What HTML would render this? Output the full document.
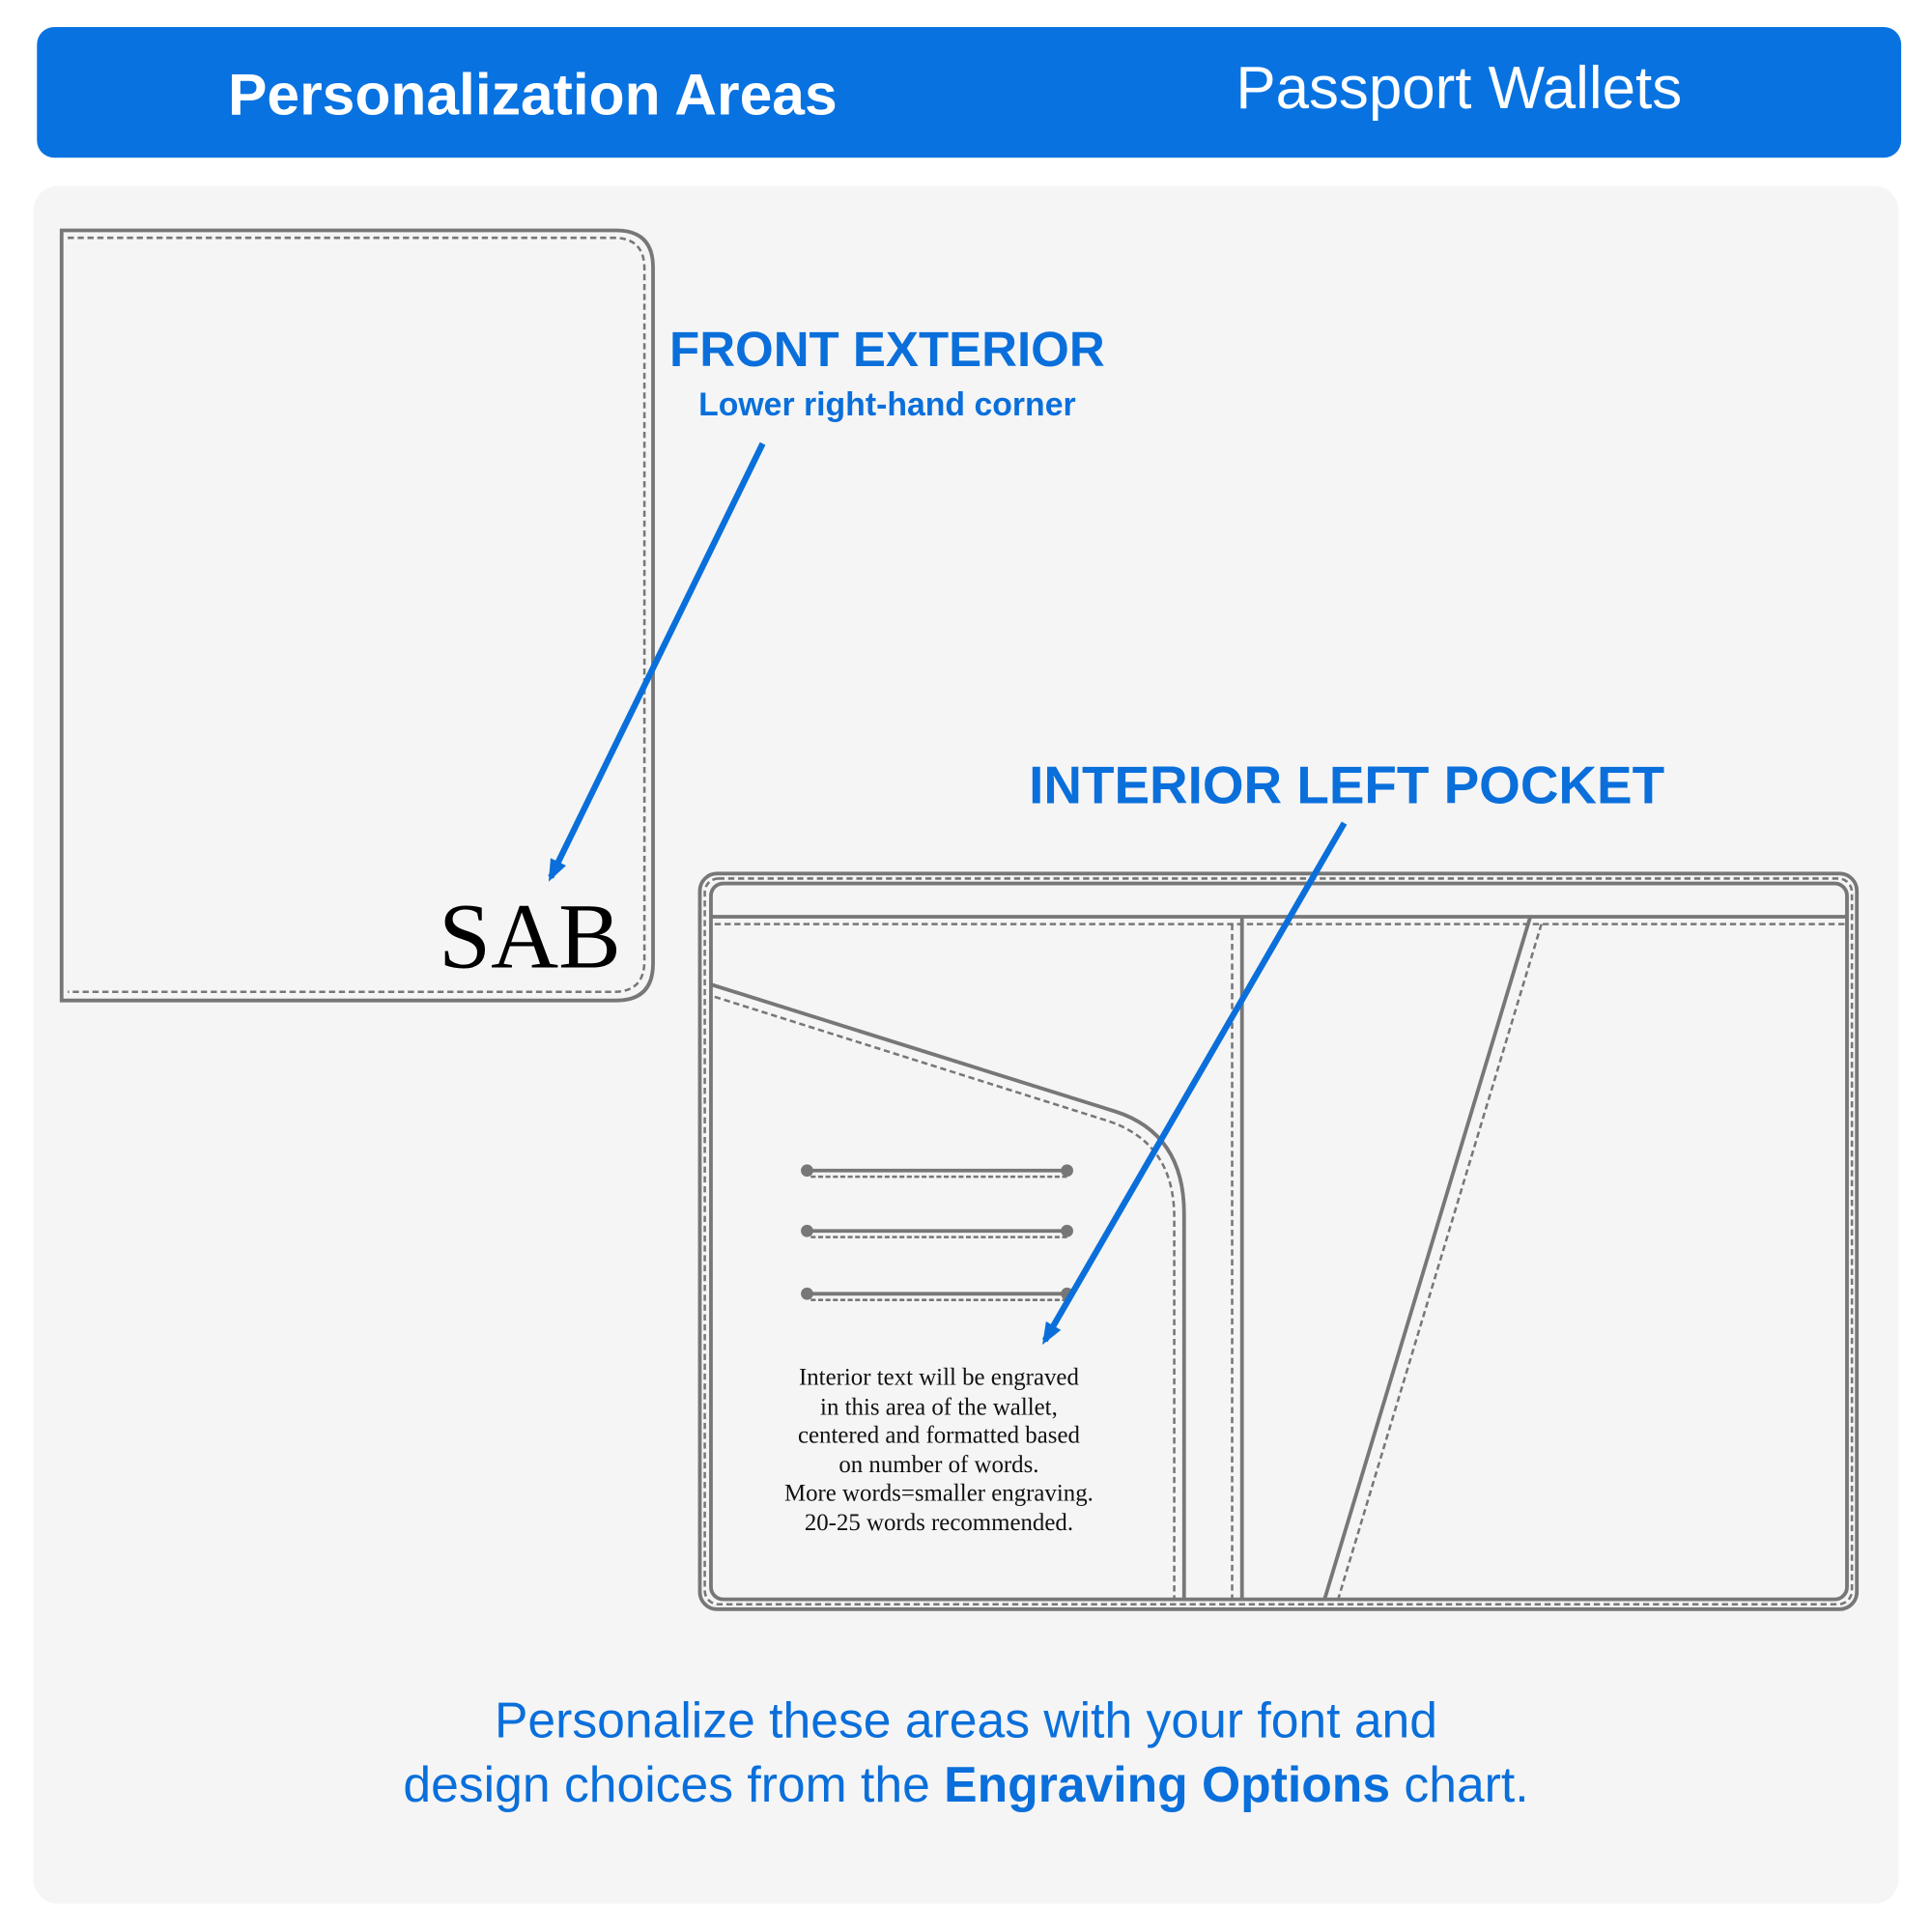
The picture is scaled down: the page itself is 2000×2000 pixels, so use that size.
<!DOCTYPE html>
<html><head><meta charset="utf-8"><style>
html,body{margin:0;padding:0;background:#fff;}
svg{display:block}
.s{font-family:"Liberation Sans",sans-serif}
.r{font-family:"Liberation Serif",serif}
</style></head><body>
<svg width="2000" height="2000" viewBox="0 0 1568 1568" xmlns="http://www.w3.org/2000/svg">
<defs>
<marker id="ah" markerWidth="18" markerHeight="16" refX="14" refY="8" orient="auto" markerUnits="userSpaceOnUse">
<path d="M0,1 L18,8 L0,15 Z" fill="#0A6FDB"/></marker>
</defs>
<rect x="30" y="22" width="1513" height="106" rx="14" fill="#0872E1"/>
<text x="185" y="93" class="s" font-size="47.5" font-weight="bold" fill="#fff">Personalization Areas</text>
<text x="1003" y="88" class="s" font-size="48.5" fill="#fff">Passport Wallets</text>
<rect x="27" y="151" width="1514" height="1394" rx="20" fill="#f5f5f5"/>

<g fill="none" stroke="#777">
<path d="M50,187 H500 Q530,187 530,217 V782 Q530,812 500,812 H50 Z" stroke-width="3"/>
<path d="M55,193 H498 Q523,193 523,218 V780 Q523,805 498,805 H55" stroke-width="2" stroke-dasharray="5,3"/>
<rect x="568" y="709" width="939" height="597" rx="14" stroke-width="3"/>
<rect x="572" y="713" width="931" height="589" rx="11" stroke-width="2" stroke-dasharray="5,3"/>
<rect x="577" y="717" width="922" height="581" rx="10" stroke-width="3"/>
<line x1="577" y1="744" x2="1499" y2="744" stroke-width="3"/>
<line x1="580" y1="750" x2="1497" y2="750" stroke-width="2" stroke-dasharray="5,3"/>
<line x1="1008" y1="744" x2="1008" y2="1298" stroke-width="3"/>
<line x1="1000" y1="750" x2="1000" y2="1298" stroke-width="2" stroke-dasharray="5,3"/>
<line x1="1242" y1="744" x2="1075" y2="1298" stroke-width="3"/>
<line x1="1251" y1="750" x2="1086" y2="1298" stroke-width="2" stroke-dasharray="5,3"/>
<path d="M577,799 L905,902 Q961,920 961,985 V1298" stroke-width="3"/>
<path d="M580,809 L900,910 Q953,928 953,988 V1298" stroke-width="2" stroke-dasharray="5,3"/>
<g stroke-width="3"><line x1="655" y1="950" x2="866" y2="950"/><line x1="655" y1="999" x2="866" y2="999"/><line x1="655" y1="1050" x2="866" y2="1050"/></g>
<g stroke-width="2" stroke-dasharray="4,2"><line x1="658" y1="955" x2="866" y2="955"/><line x1="658" y1="1004" x2="866" y2="1004"/><line x1="658" y1="1055" x2="866" y2="1055"/></g>
</g>
<g fill="#777"><circle cx="655" cy="950" r="5"/><circle cx="866" cy="950" r="5"/><circle cx="655" cy="999" r="5"/><circle cx="866" cy="999" r="5"/><circle cx="655" cy="1050" r="5"/><circle cx="866" cy="1050" r="5"/></g>

<text x="430" y="785" class="r" font-size="76" text-anchor="middle" fill="#000">SAB</text>

<text x="720" y="297" class="s" font-size="40" font-weight="bold" fill="#0A6FDB" text-anchor="middle">FRONT EXTERIOR</text>
<text x="720" y="337" class="s" font-size="26.5" font-weight="bold" fill="#0A6FDB" text-anchor="middle">Lower right-hand corner</text>
<text x="1093" y="652" class="s" font-size="43" font-weight="bold" fill="#0A6FDB" text-anchor="middle">INTERIOR LEFT POCKET</text>

<line x1="619" y1="360" x2="447" y2="712" stroke="#0A6FDB" stroke-width="5" marker-end="url(#ah)"/>
<line x1="1091" y1="668" x2="848" y2="1088" stroke="#0A6FDB" stroke-width="5" marker-end="url(#ah)"/>

<g class="r" font-size="19.5" fill="#111" text-anchor="middle">
<text x="762" y="1124">Interior text will be engraved</text>
<text x="762" y="1148">in this area of the wallet,</text>
<text x="762" y="1171">centered and formatted based</text>
<text x="762" y="1195">on number of words.</text>
<text x="762" y="1218">More words=smaller engraving.</text>
<text x="762" y="1242">20-25 words recommended.</text>
</g>

<g class="s" font-size="40.5" fill="#0A6FDB" text-anchor="middle">
<text x="784" y="1410">Personalize these areas with your font and</text>
<text x="784" y="1462">design choices from the <tspan font-weight="bold">Engraving Options</tspan> chart.</text>
</g>
</svg>
</body></html>
